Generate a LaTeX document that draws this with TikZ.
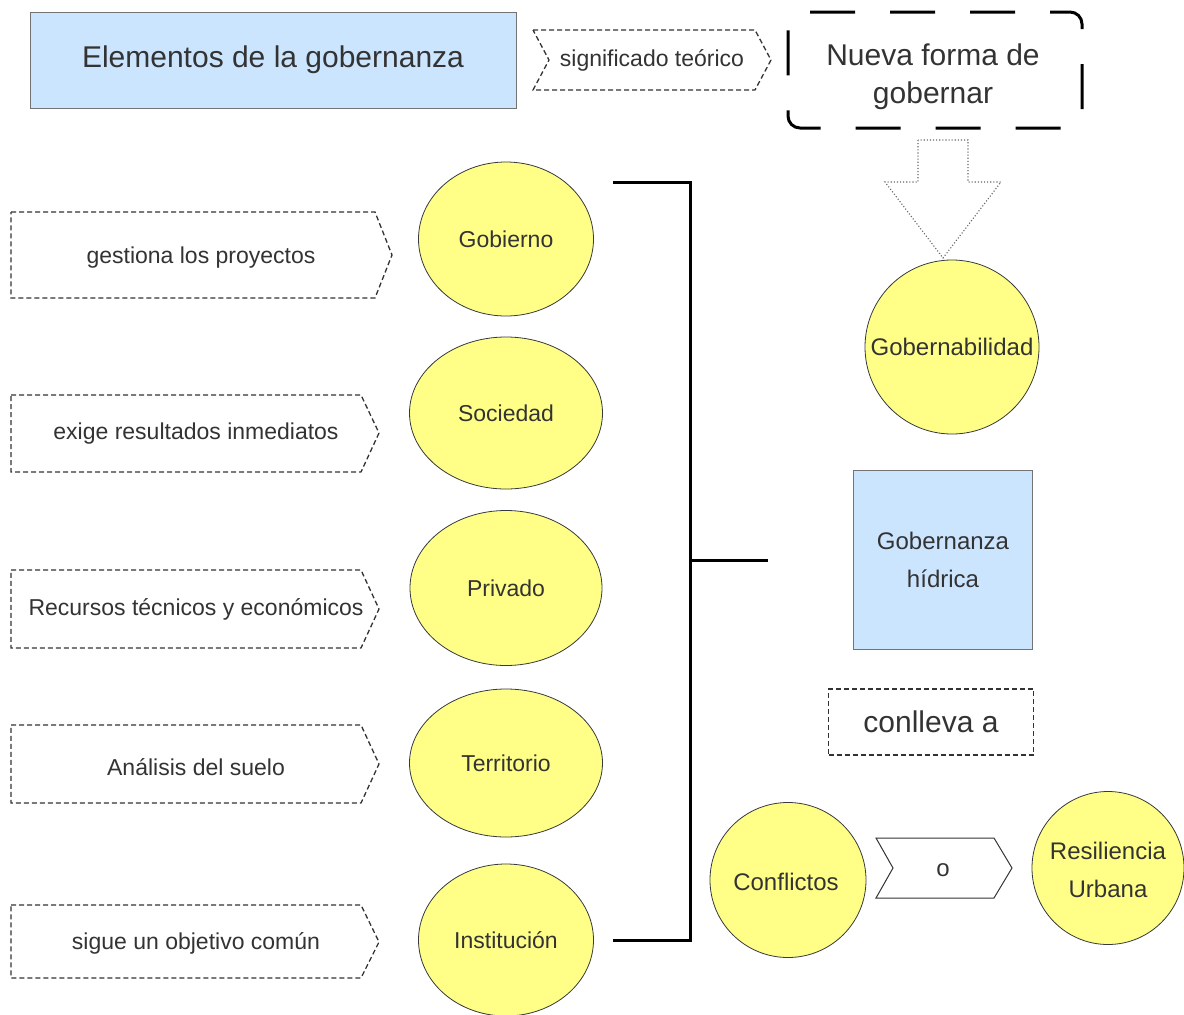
\documentclass[tikz,border=0pt]{standalone}
\usepackage{fontspec}
\setmainfont{Liberation Sans}
\usetikzlibrary{shapes.geometric}
\definecolor{txt}{HTML}{333333}
\definecolor{yel}{HTML}{FFFF88}
\definecolor{blu}{HTML}{CCE5FF}
\definecolor{edge}{HTML}{36393D}
\tikzset{
 circ/.style={ellipse, draw=edge, fill=yel, line width=0.8pt, inner sep=0pt},
 lbl/.style={text=txt, font=\fontsize{23}{28}\selectfont, inner sep=0pt, align=center},
 dashbox/.style={draw=txt, dash pattern=on 5pt off 3pt, line width=1.3pt},
 bluebox/.style={draw=black!55, fill=blu, line width=1pt, text=txt, inner sep=0pt},
 bracketline/.style={line width=3pt, black},
 bigarrow/.style={draw=black!60, dotted, line width=1.1pt},
}
\begin{document}
\begin{tikzpicture}[x=1pt,y=-1pt]
\useasboundingbox (0,0) rectangle (1184,1015);
\fill[white] (0,0) rectangle (1184,1015);

% top row
\node[bluebox, minimum width=486, minimum height=96, font=\fontsize{30}{36}\selectfont] (elem) at (273,60) {Elementos de la gobernanza};
\draw[dashbox] (533,30) -- (755,30) -- (771,60) -- (755,90) -- (533,90) -- (549,60) -- cycle;
\node[lbl] (sig) at (652,60) {significado teórico};

\node[draw=black, line width=3pt, dash pattern=on 45pt off 35pt, dash phase=25pt, rounded corners=12pt, minimum width=294, minimum height=116] (nueva) at (935,70) {};
\node[lbl, font=\fontsize{30}{38}\selectfont] (nuevat) at (933,77) {Nueva forma de\\gobernar};

\draw[bigarrow] (918,140) -- (918,182) -- (885,182) -- (943,258) -- (1001,182) -- (968,182) -- (968,140) -- cycle;

% right column
\node[circ, minimum width=174, minimum height=174] (gobern) at (952,347) {};
\node[lbl, font=\fontsize{24}{30}\selectfont] (gobernt) at (gobern) {Gobernabilidad};
\node[bluebox, minimum width=179, minimum height=179, align=center, font=\fontsize{24}{38}\selectfont] (ghid) at (943,560) {Gobernanza\\hídrica};
\node[dashbox, minimum width=205, minimum height=66, text=txt, font=\fontsize{30}{36}\selectfont] (conl) at (931,722) {conlleva a};

\node[circ, minimum width=156, minimum height=155] (conf) at (788,880) {};
\node[lbl, font=\fontsize{24}{30}\selectfont] (conft) at (786,882) {Conflictos};
\draw[line width=1pt, black!80] (876,838) -- (994,838) -- (1012,868) -- (994,898) -- (876,898) -- (893,868) -- cycle;
\node[lbl, font=\fontsize{24}{30}\selectfont] (o) at (943,870) {o};
\node[circ, minimum width=152, minimum height=153] (resil) at (1108,868) {};
\node[lbl, font=\fontsize{24}{38}\selectfont] (resilt) at (1108,870) {Resiliencia\\Urbana};

% left circles
\node[circ, minimum width=175, minimum height=154] (gob) at (506,239) {};
\node[lbl] (gobt) at (gob) {Gobierno};
\node[circ, minimum width=193, minimum height=152] (soc) at (506,413) {};
\node[lbl] (soct) at (soc) {Sociedad};
\node[circ, minimum width=192, minimum height=155] (priv) at (506,588) {};
\node[lbl] (privt) at (priv) {Privado};
\node[circ, minimum width=193, minimum height=148] (terr) at (506,763) {};
\node[lbl] (terrt) at (terr) {Territorio};
\node[circ, minimum width=175, minimum height=152] (inst) at (506,940) {};
\node[lbl] (instt) at (inst) {Institución};

% left labels
\draw[dashbox] (11,212) -- (375,212) -- (392,255) -- (375,298) -- (11,298) -- cycle;
\node[lbl] (l1) at (201,258) {gestiona los proyectos};
\draw[dashbox] (11,395) -- (361,395) -- (379,433) -- (361,472) -- (11,472) -- cycle;
\node[lbl] (l2) at (196,434) {exige resultados inmediatos};
\draw[dashbox] (11,570) -- (361,570) -- (379,609) -- (361,648) -- (11,648) -- cycle;
\node[lbl] (l3) at (196,609) {Recursos técnicos y económicos};
\draw[dashbox] (11,725) -- (361,725) -- (379,764) -- (361,803) -- (11,803) -- cycle;
\node[lbl] (l4) at (196,767) {Análisis del suelo};
\draw[dashbox] (11,905) -- (361,905) -- (379,942) -- (361,978) -- (11,978) -- cycle;
\node[lbl] (l5) at (196,943) {sigue un objetivo común};

% bracket
\coordinate (bt) at (613,182);
\coordinate (bb) at (613,940);
\coordinate (bm) at (690,560);
\coordinate (be) at (768,560);
\draw[bracketline] (bt) -| (bm) |- (bb);
\draw[bracketline] (bm) -- (be);
\end{tikzpicture}
\end{document}
